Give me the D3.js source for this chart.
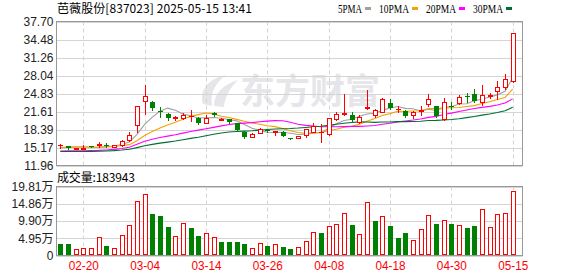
<!DOCTYPE html>
<html>
<head>
<meta charset="utf-8">
<script src="https://cdn.jsdelivr.net/npm/d3@7"></script>
<style>
  html, body { margin: 0; padding: 0; background: #fff; }
  svg { display: block; font-family: "Liberation Sans", Arial, sans-serif; }
</style>
</head>
<body>
<svg id="chart" width="578" height="276"></svg>
<script>
(function() {

  // trading days shown in the window
  var dates = ["02-17","02-18","02-19","02-20","02-21","02-24","02-25","02-26","02-27","02-28",
    "03-03","03-04","03-05","03-06","03-07","03-10","03-11","03-12","03-13","03-14",
    "03-17","03-18","03-19","03-20","03-21","03-24","03-25","03-26","03-27","03-28",
    "03-31","04-01","04-02","04-03","04-07","04-08","04-09","04-10","04-11","04-14",
    "04-15","04-16","04-17","04-18","04-21","04-22","04-23","04-24","04-25","04-28",
    "04-29","04-30","05-06","05-07","05-08","05-09","05-12","05-13","05-14","05-15"];

  var opens = [15.65,15.41,14.95,15.05,15.45,15.72,15.60,15.35,15.60,16.53,
    19.20,23.55,23.25,21.70,21.25,20.62,20.37,20.78,20.42,19.54,
    21.30,20.25,20.19,19.50,18.00,17.12,17.83,18.30,17.95,18.00,
    16.85,16.95,17.35,18.00,17.90,17.65,20.19,21.20,21.00,19.70,
    22.20,20.90,21.60,23.13,22.00,21.66,21.07,21.75,23.00,22.60,
    20.30,22.60,23.13,24.35,24.73,23.25,24.50,25.20,26.08,27.14];

  var highs = [15.88,15.50,15.10,15.58,15.50,16.18,16.00,15.65,16.60,17.89,
    22.62,26.38,23.55,22.43,21.30,20.72,21.37,21.96,20.66,21.01,
    21.45,20.48,20.30,19.60,18.05,17.70,18.60,18.50,18.15,18.05,
    16.95,17.25,18.50,19.60,19.30,20.50,21.60,24.80,21.50,20.90,
    25.50,22.10,24.00,23.90,22.66,21.80,21.70,22.66,24.70,22.66,
    24.00,23.25,24.55,24.90,25.60,26.38,24.90,27.10,28.30,35.59];

  var lows = [15.17,14.90,14.90,15.00,15.20,15.35,15.29,15.30,15.50,16.35,
    18.00,21.19,21.96,20.66,20.01,20.01,20.19,19.89,19.36,19.50,
    20.75,20.07,19.60,18.20,16.90,17.00,17.75,17.90,17.50,17.20,
    16.70,16.90,17.10,17.90,16.10,17.50,20.10,21.00,19.90,19.50,
    22.00,20.66,21.50,22.00,21.48,20.60,20.48,20.90,22.66,20.60,
    20.07,22.07,23.00,23.37,23.37,22.84,24.00,23.90,25.60,26.97];

  var closes = [15.65,15.00,15.05,15.10,15.35,15.76,15.45,15.60,16.42,17.47,
    22.62,24.37,22.19,21.55,20.37,20.68,20.95,20.78,19.54,20.48,
    20.90,20.32,19.72,18.30,17.12,17.65,18.42,18.06,18.10,17.30,
    16.80,17.20,18.40,19.05,17.90,20.48,21.25,21.35,20.10,20.66,
    22.45,21.96,23.90,22.25,22.00,20.78,21.60,21.90,23.84,20.85,
    23.31,22.50,24.20,24.15,23.55,24.55,24.60,26.08,27.38,35.59];

  // volume in 万 shares
  var volumes = [3.4,3.4,1.9,2.2,2.2,5.2,2.7,2.2,5.8,8.7,
    15.6,17.7,12.0,11.4,8.2,5.5,9.4,7.9,5.6,6.4,
    5.2,3.9,3.9,3.9,3.3,2.1,3.5,2.7,3.2,2.4,
    1.8,2.4,4.1,6.8,6.5,8.4,9.0,12.2,8.8,6.1,
    15.3,9.9,11.3,8.5,5.0,6.5,4.5,7.5,11.6,9.1,
    10.1,9.1,8.7,7.9,8.5,13.3,8.1,11.9,12.2,18.3943];

  // estimated closes of the 29 sessions before the window (only feed the moving averages)
  var prevCloses = [14.8,14.9,15.0,14.9,14.9,14.2,13.8,13.5,13.3,13.5,
    14.6,14.8,14.9,14.7,15.0,14.0,13.6,13.2,12.8,12.4,
    13.6,14.6,15.4,15.6,15.8,15.0,14.7,14.85,15.8];

  var priceTicks = [11.96,15.17,18.39,21.61,24.83,28.04,31.26,34.48,37.70];
  var volumeTicks = [0,4.95,9.90,14.86,19.81];
  var dateTicks = ["02-20","03-04","03-14","03-26","04-08","04-18","04-30","05-15"];

  var maPeriods = [5, 10, 20, 30];
  var maColors = ["#a0a0a0", "#f5a300", "#ff00ff", "#006e32"];

  var UP = "#ff0000", DOWN = "#008000", GRID = "#d4d4d4", FRAME = "#999";

  var main = { left: 56.5, right: 522.5, top: 21.5, bottom: 165.5 };
  var vol = { top: 186.5, bottom: 255.5 };

  var svg = d3.select("#chart");

  var x = d3.scalePoint().domain(dates).range([60.3, 512.7]);
  var y = d3.scaleLinear().domain([11.96, 37.70]).range([main.bottom, main.top]);
  var vy = d3.scaleLinear().domain([0, 19.81]).range([vol.bottom, vol.top]);

  function px(d) { return Math.round(x(d)); }
  function crisp(v) { return Math.round(v) + 0.5; }

  var candles = dates.map(function(d, i) {
    return {
      date: d, o: opens[i], h: highs[i], l: lows[i], c: closes[i], v: volumes[i],
      prev: i ? closes[i - 1] : prevCloses[prevCloses.length - 1]
    };
  });

  // moving averages are computed over the full close history
  var allCloses = prevCloses.concat(closes);
  function movingAverage(n) {
    return closes.map(function(c, i) {
      var end = prevCloses.length + i + 1;
      return d3.mean(allCloses.slice(end - n, end));
    });
  }

  // ---------- watermark ----------
  var mark = svg.append("g").attr("fill", "#e6e6ea");
  mark.append("path")
    .attr("d", "M203,104 C199,90 208,79 226,75 C215,83 210,93 212,106 Z" +
      "M214,106 C214,94 222,85 238,80 C229,89 225,97 224,107 Z");
  mark.append("text")
    .attr("x", 240).attr("y", 104)
    .attr("font-family", "Noto Sans CJK SC")
    .attr("font-weight", "bold")
    .attr("font-size", 35)
    .attr("textLength", 140)
    .text("东方财富");

  // ---------- grids ----------
  function drawGrid(top, bottom, ticks, scale) {
    svg.append("g").selectAll("line").data(ticks).enter().append("line")
      .attr("x1", main.left).attr("x2", main.right)
      .attr("y1", function(d) { return crisp(scale(d)); })
      .attr("y2", function(d) { return crisp(scale(d)); })
      .attr("stroke", GRID);
    svg.append("g").selectAll("line").data(dateTicks).enter().append("line")
      .attr("x1", function(d) { return px(d) + 0.5; })
      .attr("x2", function(d) { return px(d) + 0.5; })
      .attr("y1", top).attr("y2", bottom)
      .attr("stroke", GRID)
      .attr("stroke-dasharray", "4,3");
  }
  drawGrid(main.top, main.bottom, priceTicks, y);
  drawGrid(vol.top, vol.bottom, volumeTicks, vy);

  // ---------- frames ----------
  [[main.top, main.bottom], [vol.top, vol.bottom]].forEach(function(p) {
    svg.append("rect")
      .attr("x", main.left).attr("y", p[0])
      .attr("width", main.right - main.left).attr("height", p[1] - p[0])
      .attr("fill", "none").attr("stroke", FRAME);
  });

  // ---------- moving averages ----------
  var maGroup = svg.append("g").attr("fill", "none");
  maPeriods.forEach(function(n, k) {
    var values = movingAverage(n);
    maGroup.append("path")
      .datum(values)
      .attr("stroke", maColors[k])
      .attr("stroke-width", 1.1)
      .attr("d", d3.line()
        .x(function(d, i) { return x(dates[i]); })
        .y(function(d) { return y(d); }));
  });

  // ---------- candles ----------
  var candleGroup = svg.append("g").selectAll("g").data(candles).enter().append("g");

  candleGroup.append("line")
    .attr("x1", function(d) { return px(d.date) + 0.5; })
    .attr("x2", function(d) { return px(d.date) + 0.5; })
    .attr("y1", function(d) { return Math.round(y(d.h)); })
    .attr("y2", function(d) { return Math.round(y(d.l)) + 1; })
    .attr("stroke", function(d) { return d.c >= d.o ? UP : DOWN; });

  // hollow red bodies for rising sessions, filled green for falling ones,
  // a flat dash when open and close are equal
  candleGroup.append("rect")
    .attr("x", function(d) { return d.c > d.o ? px(d.date) - 1.5 : px(d.date) - 2; })
    .attr("y", function(d) {
      var top = Math.round(y(Math.max(d.o, d.c)));
      return d.c > d.o ? top + 0.5 : top;
    })
    .attr("width", function(d) { return d.c > d.o ? 4 : 5; })
    .attr("height", function(d) {
      var h = Math.round(y(Math.min(d.o, d.c))) - Math.round(y(Math.max(d.o, d.c)));
      return Math.max(h, 1);
    })
    .attr("fill", function(d) {
      if (d.c > d.o) return "#fff";
      return d.c < d.o ? DOWN : UP;
    })
    .attr("stroke", function(d) { return d.c > d.o ? UP : "none"; });

  // ---------- volume bars ----------
  // bars follow the change against the previous close
  svg.append("g").selectAll("rect").data(candles).enter().append("rect")
    .attr("x", function(d) { return d.c >= d.prev ? px(d.date) - 1.5 : px(d.date) - 2; })
    .attr("y", function(d) {
      var top = Math.round(vy(d.v));
      return d.c >= d.prev ? top + 0.5 : top;
    })
    .attr("width", function(d) { return d.c >= d.prev ? 4 : 5; })
    .attr("height", function(d) {
      var top = Math.round(vy(d.v));
      return d.c >= d.prev ? 254.5 - (top + 0.5) : 255 - top;
    })
    .attr("fill", function(d) { return d.c >= d.prev ? "#fff" : DOWN; })
    .attr("stroke", function(d) { return d.c >= d.prev ? UP : "none"; });

  // ---------- axes ----------
  var priceAxis = svg.append("g")
    .attr("transform", "translate(" + main.left + ",0)")
    .call(d3.axisLeft(y).tickValues(priceTicks).tickSize(0).tickPadding(3)
      .tickFormat(d3.format(".2f")));

  var volumeAxis = svg.append("g")
    .attr("transform", "translate(" + main.left + ",0)")
    .call(d3.axisLeft(vy).tickValues(volumeTicks).tickSize(0).tickPadding(3)
      .tickFormat(function(d) { return d === 0 ? "0" : d.toFixed(2) + "万"; }));

  var dateAxis = svg.append("g")
    .attr("transform", "translate(0," + vol.bottom + ")")
    .call(d3.axisBottom(x).tickValues(dateTicks).tickSize(0).tickPadding(6));

  [priceAxis, volumeAxis, dateAxis].forEach(function(a) {
    a.select(".domain").remove();
    a.selectAll("text")
      .attr("font-family", "Liberation Sans, Noto Sans CJK SC")
      .attr("font-size", 12);
  });
  priceAxis.selectAll("text").attr("fill", "#222");
  volumeAxis.selectAll("text").attr("fill", "#222");
  dateAxis.selectAll("text").attr("fill", UP)
    .attr("textLength", 30).attr("lengthAdjust", "spacingAndGlyphs");

  // ---------- title, legend, volume label ----------
  svg.append("text")
    .attr("x", 57).attr("y", 13)
    .attr("font-family", "Noto Sans CJK SC")
    .attr("font-size", 12)
    .attr("textLength", 195)
    .attr("fill", "#000")
    .text("芭薇股份[837023] 2025-05-15 13:41");

  var legendX = 338;
  maPeriods.forEach(function(n, k) {
    var label = n + "PMA";
    var w = label.length * 6;
    svg.append("text")
      .attr("x", legendX).attr("y", 12.5)
      .attr("font-family", "Liberation Serif")
      .attr("font-size", 12)
      .attr("textLength", w)
      .attr("lengthAdjust", "spacingAndGlyphs")
      .attr("fill", "#000")
      .text(label);
    svg.append("rect")
      .attr("x", legendX + w + 3).attr("y", 7)
      .attr("width", 6).attr("height", 3)
      .attr("fill", maColors[k]);
    legendX += w + 3 + 6 + 8;
  });

  svg.append("text")
    .attr("x", 57).attr("y", 181.5)
    .attr("font-family", "Noto Sans CJK SC")
    .attr("font-size", 12)
    .attr("textLength", 78)
    .attr("fill", "#000")
    .text("成交量:" + Math.round(volumes[volumes.length - 1] * 10000));

}());
</script>
</body>
</html>
